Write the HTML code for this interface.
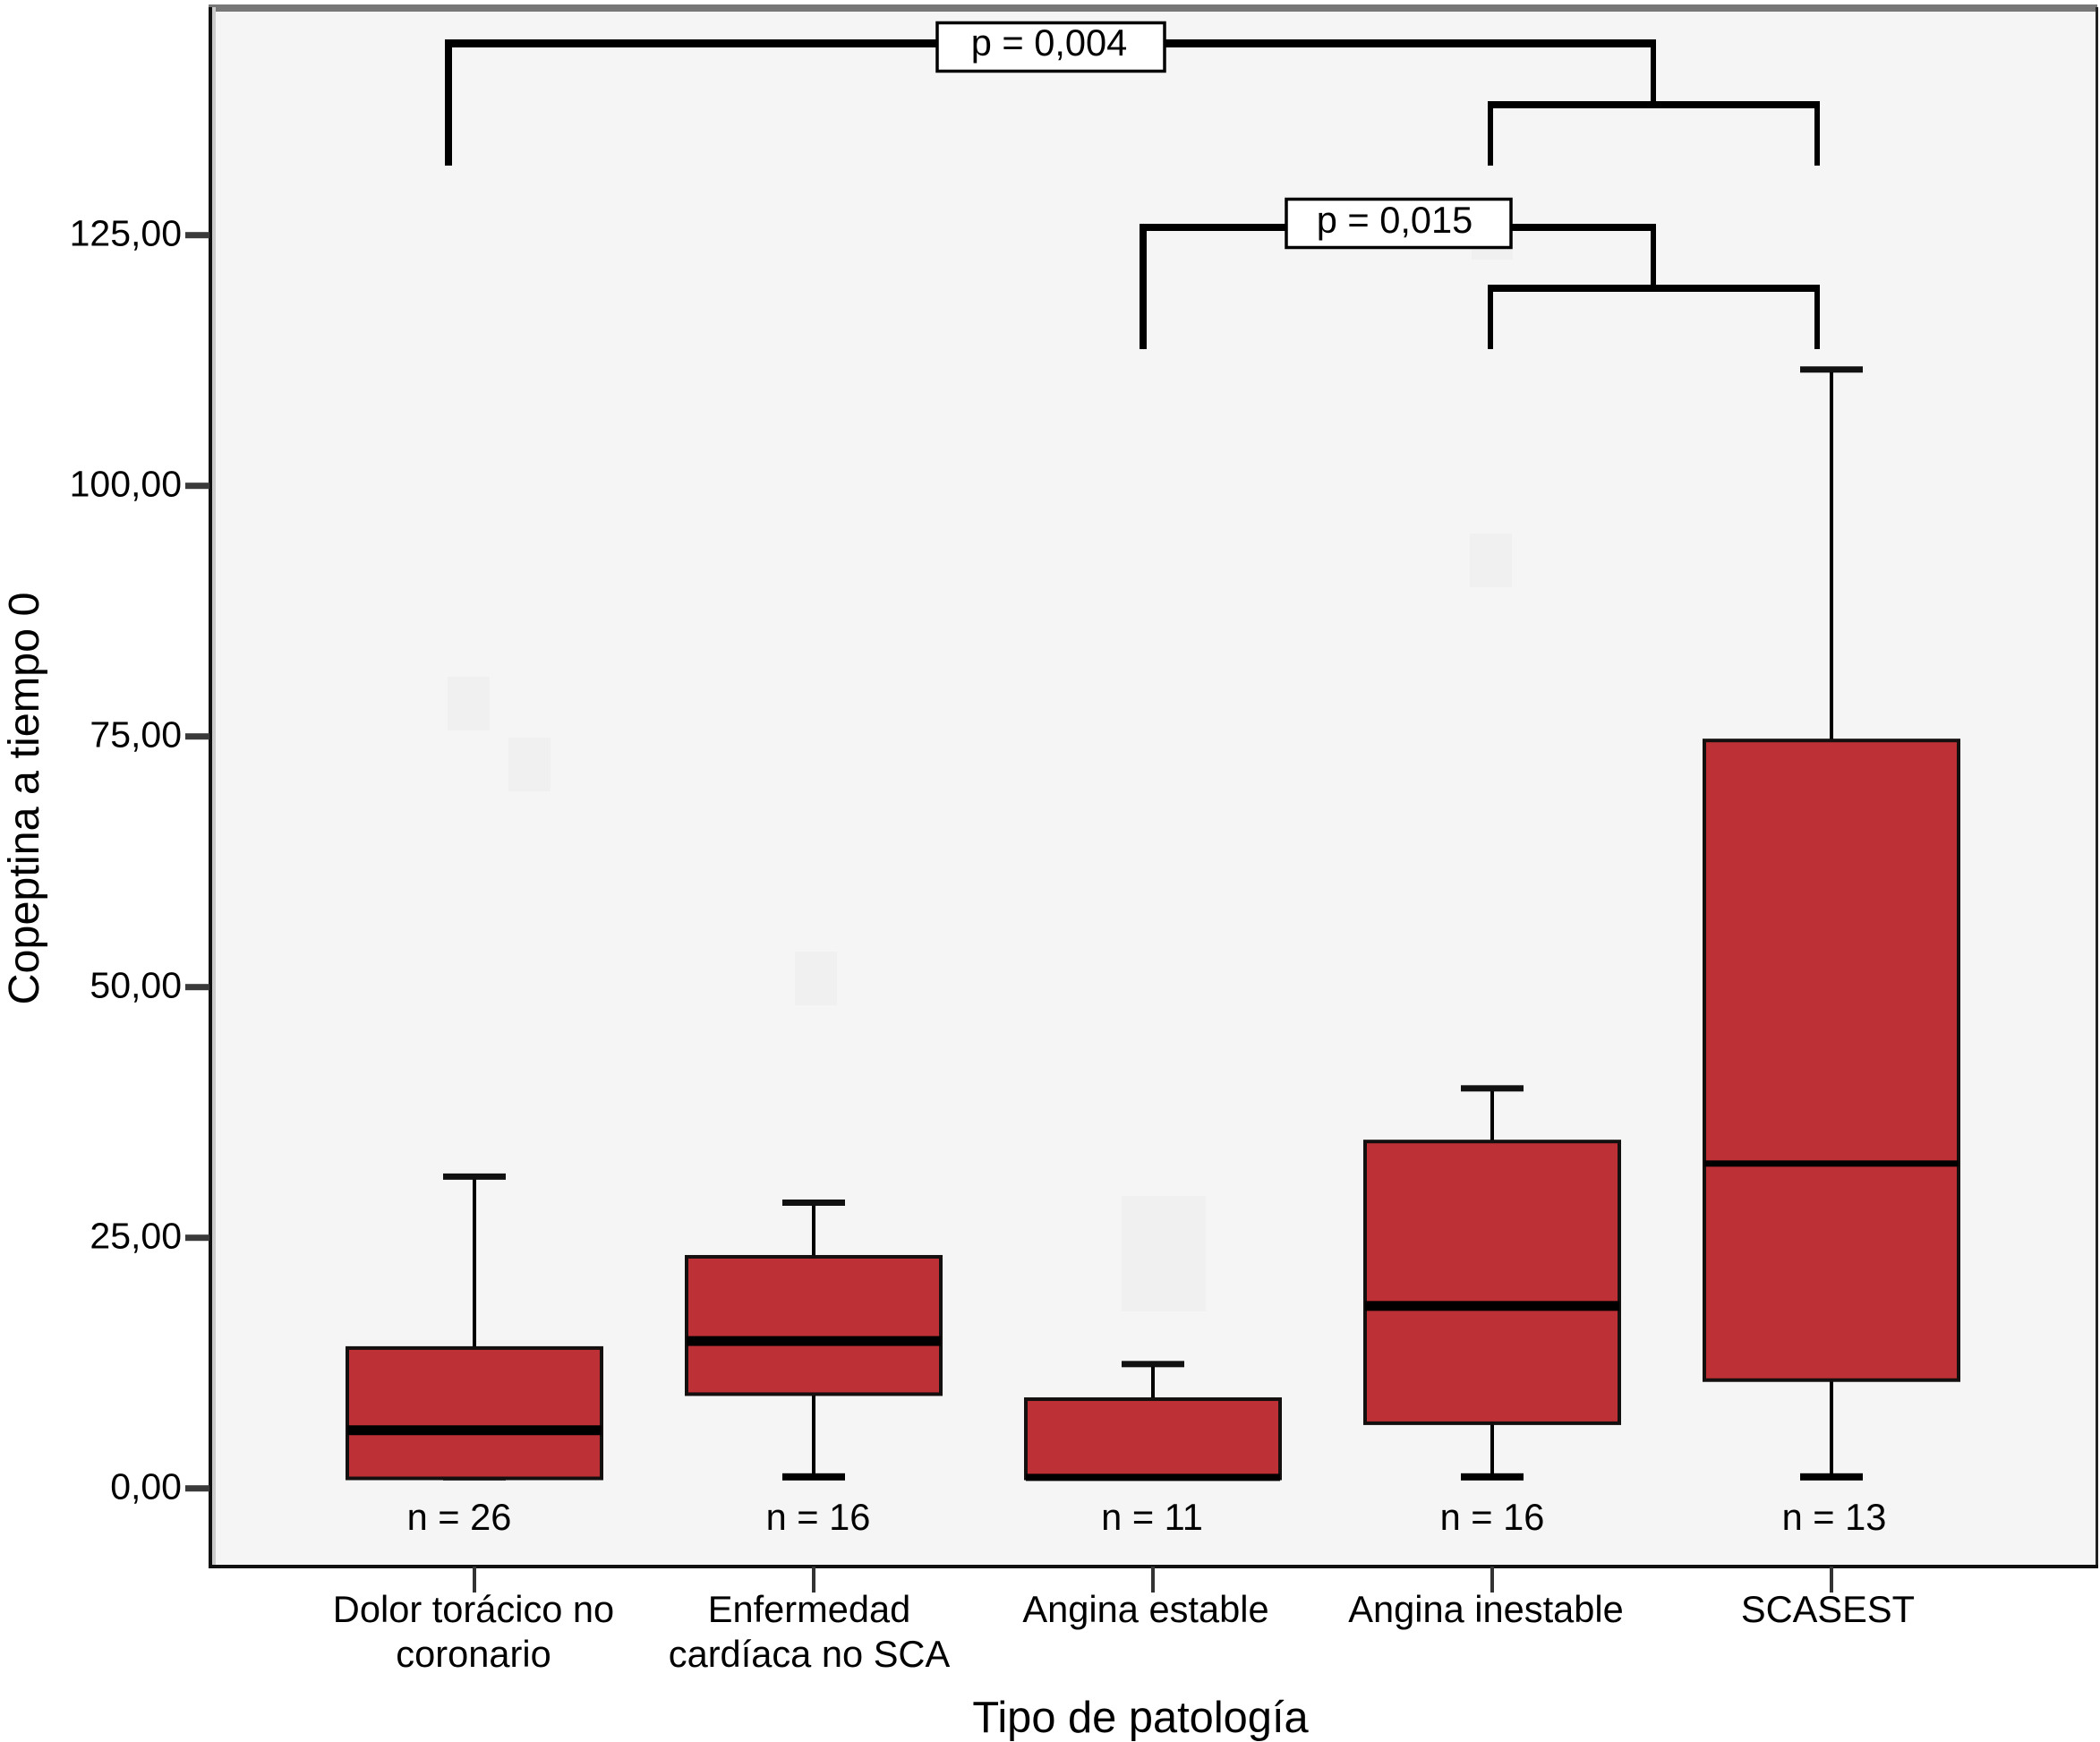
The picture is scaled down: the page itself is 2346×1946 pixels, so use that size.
<!DOCTYPE html>
<html lang="es">
<head>
<meta charset="utf-8">
<title>Copeptina a tiempo 0 por tipo de patología</title>
<style>
  html, body { margin: 0; padding: 0; background: #fff; }
  svg { display: block; }
  text { font-family: "Liberation Sans", sans-serif; fill: #000; }
</style>
</head>
<body>
<svg id="chart" xmlns="http://www.w3.org/2000/svg" width="2346" height="1946" viewBox="0 0 2346 1946">
  <rect x="0" y="0" width="2346" height="1946" fill="#ffffff"/>
  <rect x="235" y="8" width="2107" height="1742" fill="#f5f5f5"/>
  <rect x="500" y="756" width="47" height="60" fill="#f0f0f0"/>
  <rect x="568" y="824" width="47" height="60" fill="#f0f0f0"/>
  <rect x="888" y="1063" width="47" height="60" fill="#f0f0f0"/>
  <rect x="1253" y="1336" width="94" height="129" fill="#f0f0f0"/>
  <rect x="1642" y="596" width="47" height="60" fill="#f0f0f0"/>
  <rect x="1644" y="279" width="46" height="11" fill="#f0f0f0"/>

  <rect x="233" y="5" width="2110" height="8" fill="#777777"/>
  <rect x="237" y="8" width="4" height="1742" fill="#cccccc"/>
  <rect x="233" y="8" width="4" height="1744" fill="#111111"/>
  <rect x="2341" y="8" width="3" height="1744" fill="#222222"/>
  <rect x="233" y="1748" width="2111" height="4" fill="#111111"/>

  <g id="y-axis"></g>
  <g id="x-axis"></g>
  <g id="boxes"></g>

  <g fill="#000000">
    <rect x="497" y="44" width="1353" height="9"/>
    <rect x="497" y="44" width="8" height="141"/>
    <rect x="1844" y="44" width="6" height="71"/>
    <rect x="1662" y="113" width="371" height="8"/>
    <rect x="1662" y="113" width="6" height="72"/>
    <rect x="2027" y="113" width="6" height="72"/>
  </g>
  <g fill="#000000">
    <rect x="1273" y="250" width="577" height="8"/>
    <rect x="1273" y="250" width="8" height="140"/>
    <rect x="1844" y="250" width="6" height="70"/>
    <rect x="1662" y="318" width="371" height="8"/>
    <rect x="1662" y="318" width="6" height="72"/>
    <rect x="2027" y="318" width="6" height="72"/>
  </g>

  <rect x="1047" y="25.5" width="254" height="54" fill="#ffffff" stroke="#000000" stroke-width="3.5"/>
  <text x="1172" y="62" font-size="41.6" text-anchor="middle">p = 0,004</text>
  <rect x="1437" y="222.5" width="251" height="54" fill="#ffffff" stroke="#000000" stroke-width="3.5"/>
  <text x="1558" y="260" font-size="41.6" text-anchor="middle">p = 0,015</text>

  <text transform="translate(43 892) rotate(-90)" font-size="48.5" text-anchor="middle">Copeptina a tiempo 0</text>
  <text x="1274" y="1935" font-size="48.8" text-anchor="middle">Tipo de patología</text>
</svg>

<script>
// ---- chart data ----
const categories = [
  ["Dolor torácico no", "coronario"],
  ["Enfermedad", "cardíaca no SCA"],
  ["Angina estable"],
  ["Angina inestable"],
  ["SCASEST"]
];
const sampleSizes = [26, 16, 11, 16, 13];
const whiskerHigh = [31.1, 28.5, 12.4, 39.9, 111.6];
const q3Values = [14.0, 23.1, 8.9, 34.6, 74.6];
const medians = [5.8, 14.7, 1.1, 18.2, 32.4];
const q1Values = [1.0, 9.4, 1.0, 6.5, 10.8];
const whiskerLow = [1.15, 1.15, 1.15, 1.15, 1.15];
const yTickValues = [0, 25, 50, 75, 100, 125];
const yTickLabels = ["0,00", "25,00", "50,00", "75,00", "100,00", "125,00"];

// ---- layout ----
const SVG_NS = "http://www.w3.org/2000/svg";
const y0 = 1662.7, pxPerUnit = 11.2;
const x0 = 530, band = 379;
const boxHalf = 142, capHalf = 35;
const labelShift = [-1, -5, -8, -7, -4];
const countShift = [-17, 5, -1, 0, 3];
const medianWeight = [11, 11, 8, 11, 7];

function y(value) { return y0 - value * pxPerUnit; }
function x(index) { return x0 + index * band; }
function make(tag, attrs, parent, content) {
  const node = document.createElementNS(SVG_NS, tag);
  for (const key in attrs) node.setAttribute(key, attrs[key]);
  if (content !== undefined) node.textContent = content;
  parent.appendChild(node);
  return node;
}

const yAxis = document.getElementById("y-axis");
const xAxis = document.getElementById("x-axis");
const boxes = document.getElementById("boxes");

yTickValues.forEach(function (value, i) {
  const tick = make("rect", { x: 207, y: y(value) - 3.5, width: 27, height: 7, fill: "#3a3a3a" }, yAxis);
  
  
  const label = make("text", { x: 203, y: y(value) + 12, "font-size": 41, "text-anchor": "end" }, yAxis, yTickLabels[i]);
  
  
});

categories.forEach(function (lines, i) {
  const cx = x(i);
  const tick = make("rect", { x: cx - 2, y: 1750, width: 4, height: 29, fill: "#333333" }, xAxis);
  
  
  lines.forEach(function (line, j) {
    const label = make("text", { x: cx + labelShift[i], y: 1812 + j * 50, "font-size": 41.6, "text-anchor": "middle" }, xAxis, line);
    
    
  });

  const whisker = make("rect", { x: cx - 2, y: y(whiskerHigh[i]), width: 4, height: y(whiskerLow[i]) - y(whiskerHigh[i]), fill: "#000000" }, boxes);
  
  
  const capHigh = make("rect", { x: cx - capHalf, y: y(whiskerHigh[i]) - 3.5, width: capHalf * 2, height: 7, fill: "#111111" }, boxes);
  
  
  const capLow = make("rect", { x: cx - capHalf, y: y(whiskerLow[i]) - 4, width: capHalf * 2, height: 8, fill: "#000000" }, boxes);
  
  

  const box = make("rect", { x: cx - boxHalf, y: y(q3Values[i]), width: boxHalf * 2, height: y(q1Values[i]) - y(q3Values[i]), fill: "#bd3035", stroke: "#141010", "stroke-width": 4 }, boxes);
  
  
  const median = make("rect", { x: cx - boxHalf, y: y(medians[i]) - medianWeight[i] / 2, width: boxHalf * 2, height: medianWeight[i], fill: "#000000" }, boxes);
  
  

  const count = make("text", { x: cx + countShift[i], y: 1709, "font-size": 41.6, "text-anchor": "middle" }, boxes, "n = " + sampleSizes[i]);
  
  
});
</script>
</body>
</html>
